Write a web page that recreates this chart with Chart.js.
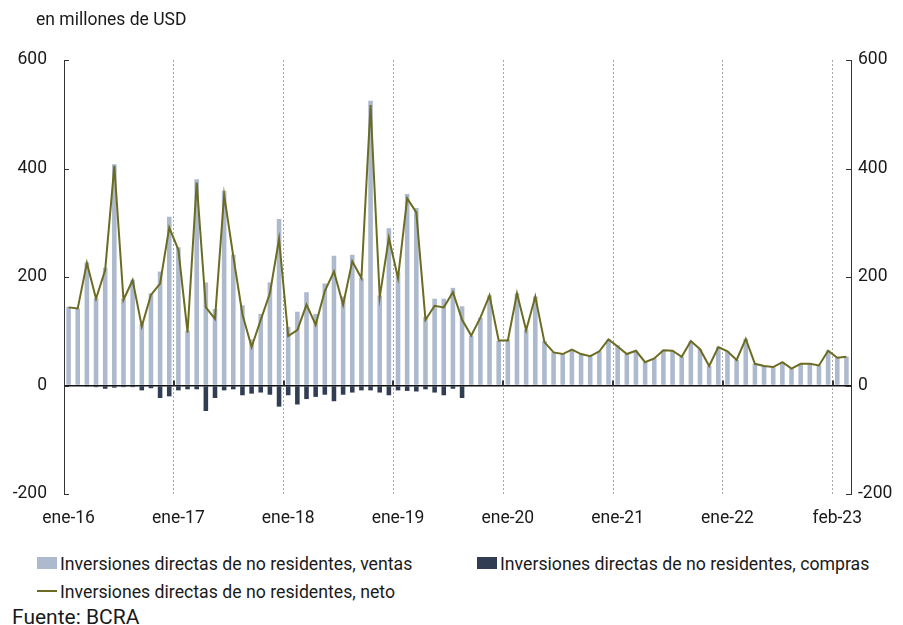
<!DOCTYPE html>
<html>
<head>
<meta charset="utf-8">
<script src="https://cdn.jsdelivr.net/npm/chart.js@4/dist/chart.umd.min.js"></script>
<style>
  body { margin: 0; background: #fff; font-family: Roboto, "Noto Sans", sans-serif; color: #1a1a1a; }
  #wrap { position: relative; width: 903px; height: 625px; overflow: hidden; }
  #chart { position: absolute; left: 0; top: 0; }
  .txt { position: absolute; white-space: nowrap; line-height: 1.2; }
  .box { display: inline-block; width: 20px; height: 12px; vertical-align: middle; margin-right: 3px; position: relative; top: -2px; }
  .ln { display: inline-block; width: 20px; height: 2px; vertical-align: middle; margin-right: 3px; position: relative; top: -2px; }
</style>
</head>
<body>
<div id="wrap">
  <canvas id="chart" width="903" height="540"></canvas>
  <div class="txt" style="left:36px; top:9px; font-size:17.5px;">en millones de USD</div>
  <div class="txt" style="left:37px; top:554px; font-size:17.7px;"><span class="box" style="background:#adb9cc"></span>Inversiones directas de no residentes, ventas</div>
  <div class="txt" style="left:477px; top:554px; font-size:17.7px;"><span class="box" style="background:#303d52"></span>Inversiones directas de no residentes, compras</div>
  <div class="txt" style="left:37px; top:582px; font-size:17.7px;"><span class="ln" style="background:#6b6c22"></span>Inversiones directas de no residentes, neto</div>
  <div class="txt" style="left:12px; top:605px; font-size:21px;">Fuente: BCRA</div>
</div>
<script>
// ====== DATA ======
const monthNames = ['ene','feb','mar','abr','may','jun','jul','ago','sep','oct','nov','dic'];
const years = ['16','17','18','19','20','21','22','23'];
const months = [];
years.forEach(y => monthNames.forEach(m => months.push(m + '-' + y)));
months.splice(86); // ene-16 ... feb-23

const tickIdx = [0, 12, 24, 36, 48, 60, 72, 84];
const tickText = ['ene-16', 'ene-17', 'ene-18', 'ene-19', 'ene-20', 'ene-21', 'ene-22', 'feb-23'];

const ventas = [
  145, 142, 227, 161, 217, 408, 160, 195, 114, 170, 210, 311,
  255, 101, 380, 190, 141, 359, 241, 148, 85, 132, 190, 307,
  108, 136, 172, 132, 188, 239, 164, 241, 198, 525, 166, 290,
  208, 353, 327, 126, 160, 160, 180, 146, 92, 125, 166, 82,
  85, 170, 103, 164, 82, 61, 58, 66, 58, 54, 63, 85,
  74, 58, 64, 43, 50, 65, 64, 53, 82, 67, 36, 71,
  63, 47, 86, 40, 36, 34, 43, 31, 40, 40, 37, 64, 51, 53
];

const compras = [
  0, 0, -2, -3, -6, -4, -3, -3, -9, -5, -23, -20,
  -9, -7, -7, -47, -23, -9, -7, -18, -15, -13, -17, -39,
  -18, -35, -25, -21, -17, -29, -17, -13, -9, -9, -13, -18,
  -9, -10, -11, -7, -13, -18, -6, -23, 0, 0, 0, 0,
  0, 0, -1, 0, 0, 0, 0, 0, 0, 0, 0, 0,
  0, 0, 0, 0, 0, 0, 0, 0, 0, 0, 0, 0,
  0, 0, 0, 0, 0, 0, 0, 0, 0, 0, 0, 0, 0, -2
];

const neto = [
  144, 142, 226, 160, 213, 405, 158, 194, 109, 167, 188, 291,
  250, 98, 374, 144, 123, 351, 238, 131, 71, 121, 170, 270,
  91, 102, 149, 112, 174, 210, 149, 229, 198, 517, 163, 272,
  198, 345, 319, 121, 147, 144, 172, 121, 92, 125, 166, 83,
  83, 170, 102, 164, 80, 61, 58, 66, 58, 54, 63, 85,
  72, 58, 64, 43, 50, 65, 64, 53, 82, 67, 36, 71,
  63, 47, 86, 40, 36, 34, 43, 31, 40, 40, 37, 64, 51, 53
];

const yMin = -200, yMax = 600, yStep = 200;

// ====== STYLE ======
const colVentas = '#adb9cc';
const colCompras = '#303d52';
const colNeto = '#6b6c22';
const axisFont = { family: 'Roboto', size: 17.5 };

// small inward tick marks on both y axes and on the zero line
const innerTicks = {
  id: 'innerTicks',
  afterDraw(chart) {
    const ctx = chart.ctx;
    const area = chart.chartArea;
    const y = chart.scales.y;
    const x = chart.scales.x;
    ctx.save();
    ctx.strokeStyle = '#333';
    ctx.lineWidth = 1;
    ctx.beginPath();
    for (let v = yMin; v <= yMax; v += yStep) {
      const py = Math.round(y.getPixelForValue(v)) + 0.5;
      ctx.moveTo(area.left, py); ctx.lineTo(area.left + 5, py);
      ctx.moveTo(area.right - 5, py); ctx.lineTo(area.right, py);
    }
    ctx.stroke();
    const zy = y.getPixelForValue(0);
    ctx.beginPath();
    ctx.lineWidth = 2;
    tickIdx.forEach(i => {
      if (i === 0) return;
      const px = Math.round((x.getPixelForValue(i - 1) + x.getPixelForValue(i)) / 2);
      ctx.moveTo(px, zy); ctx.lineTo(px, zy - 5);
    });
    ctx.stroke();
    ctx.restore();
  }
};

new Chart(document.getElementById('chart'), {
  type: 'bar',
  data: {
    labels: months,
    datasets: [
      {
        type: 'line',
        label: 'Inversiones directas de no residentes, neto',
        data: neto,
        borderColor: colNeto,
        borderWidth: 2,
        pointRadius: 0,
        tension: 0,
        yAxisID: 'y'
      },
      {
        label: 'Inversiones directas de no residentes, ventas',
        data: ventas,
        backgroundColor: colVentas,
        barPercentage: 0.5,
        categoryPercentage: 1,
        yAxisID: 'y'
      },
      {
        label: 'Inversiones directas de no residentes, compras',
        data: compras,
        backgroundColor: colCompras,
        barPercentage: 0.5,
        categoryPercentage: 1,
        yAxisID: 'y'
      }
    ]
  },
  options: {
    responsive: false,
    animation: false,
    layout: { padding: { top: 60, left: 0, right: 0, bottom: 0 } },
    plugins: { legend: { display: false }, tooltip: { enabled: false } },
    scales: {
      x: {
        stacked: true,
        offset: true,
        grid: {
          offset: true,
          drawTicks: false,
          lineWidth: 1,
          borderDash: [2, 2],
          color: ctx => (ctx.index > 0 && ctx.index % 12 === 0) ? '#a6a6a6' : 'rgba(0,0,0,0)'
        },
        border: { display: false, dash: [2, 2] },
        ticks: {
          autoSkip: false,
          maxRotation: 0,
          padding: 14,
          color: '#1a1a1a',
          font: axisFont,
          callback: (v, i) => {
            const k = tickIdx.indexOf(i);
            return k >= 0 ? tickText[k] : '';
          }
        },
        afterFit: s => { s.height = 46; }
      },
      y: {
        position: 'left',
        min: yMin, max: yMax,
        grid: {
          drawTicks: false,
          lineWidth: 1.5,
          color: ctx => ctx.tick && ctx.tick.value === 0 ? '#111' : 'rgba(0,0,0,0)'
        },
        border: { display: true, color: '#333', width: 1 },
        ticks: { stepSize: yStep, padding: 17, color: '#1a1a1a', font: axisFont },
        afterFit: s => { s.width = 64; }
      },
      y2: {
        position: 'right',
        min: yMin, max: yMax,
        grid: { display: false, drawTicks: false },
        border: { display: true, color: '#333', width: 1 },
        ticks: { stepSize: yStep, padding: 7, color: '#1a1a1a', font: axisFont },
        afterFit: s => { s.width = 52; }
      }
    }
  },
  plugins: [innerTicks]
});
</script>
</body>
</html>
